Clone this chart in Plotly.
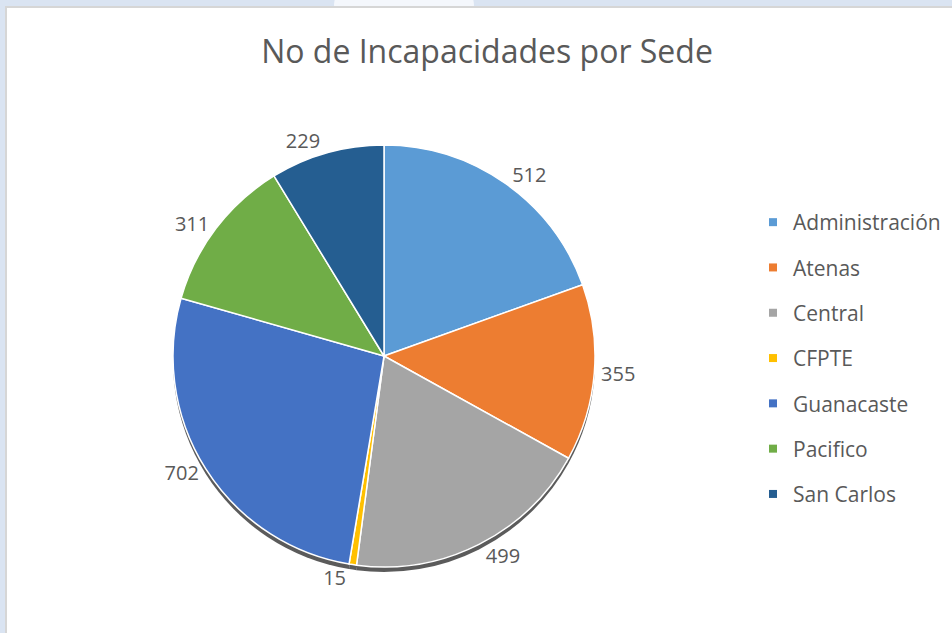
import plotly.graph_objects as go

# datos del gráfico
sedes = ["Administración", "Atenas", "Central", "CFPTE", "Guanacaste", "Pacifico", "San Carlos"]
incapacidades = [512, 355, 499, 15, 702, 311, 229]
colores = ["#5B9BD5", "#ED7D31", "#A5A5A5", "#FFC000", "#4472C4", "#70AD47", "#255E91"]

W, H = 952, 633
cx, cy, r = 384, 356, 211   # centro y radio del pastel en píxeles
fuente = "Open Sans, Noto Sans, sans-serif"
gris = "#595959"


def px_x(v):
    return v / W


def px_y(v):
    return (H - v) / H


fig = go.Figure()

# sombra del pastel (desplazada hacia abajo)
fig.add_trace(go.Pie(
    labels=sedes,
    values=incapacidades,
    sort=False,
    direction="clockwise",
    rotation=0,
    marker=dict(colors=["rgba(50,50,50,0.8)"] * len(sedes), line=dict(width=0)),
    textinfo="none",
    hoverinfo="skip",
    showlegend=False,
    domain=dict(x=[px_x(cx - r), px_x(cx + r)], y=[px_y(cy + r + 5), px_y(cy - r + 5)]),
))

fig.add_trace(go.Pie(
    labels=sedes,
    values=incapacidades,
    sort=False,
    direction="clockwise",
    rotation=0,
    marker=dict(colors=colores, line=dict(color="white", width=1.5)),
    textinfo="value",
    textposition="outside",
    outsidetextfont=dict(size=20, color=gris, family=fuente),
    showlegend=False,
    domain=dict(x=[px_x(cx - r), px_x(cx + r)], y=[px_y(cy + r), px_y(cy - r)]),
))

# leyenda con marcadores cuadrados (una entrada por sede para poder espaciarlas)
for sede, color in zip(sedes, colores):
    fig.add_trace(go.Scatter(
        x=[None], y=[None],
        mode="markers",
        marker=dict(symbol="square", size=8, color=color),
        name=sede,
        legendgroup=sede,
        showlegend=True,
    ))

fig.update_layout(
    width=W,
    height=H,
    margin=dict(l=0, r=0, t=0, b=0),
    paper_bgcolor="#dae4f2",
    plot_bgcolor="rgba(0,0,0,0)",
    xaxis=dict(visible=False),
    yaxis=dict(visible=False),
    title=dict(
        text="No de Incapacidades por Sede",
        x=px_x(487), xanchor="center",
        y=px_y(52), yanchor="middle",
        font=dict(size=32, color=gris, family=fuente),
    ),
    legend=dict(
        x=px_x(753), xanchor="left",
        y=px_y(202), yanchor="top",
        font=dict(size=21, color=gris, family=fuente),
        tracegroupgap=15,
        itemwidth=30,
        bgcolor="rgba(0,0,0,0)",
    ),
    shapes=[
        dict(type="circle", xref="paper", yref="paper", layer="below",
             x0=px_x(334), x1=px_x(474), y0=px_y(40), y1=px_y(-30),
             fillcolor="#f4f7fc", line=dict(width=0)),
        dict(type="rect", xref="paper", yref="paper", layer="below",
             x0=px_x(5), x1=1.01, y0=-0.01, y1=px_y(6),
             fillcolor="#d6d6d6", line=dict(width=0)),
        dict(type="rect", xref="paper", yref="paper", layer="below",
             x0=px_x(7), x1=1.01, y0=-0.01, y1=px_y(8),
             fillcolor="white", line=dict(width=0)),
    ],
)

fig.write_html(
    "out.html",
    config={"displayModeBar": False},
    post_script="document.body.style.margin = '0';",
)
